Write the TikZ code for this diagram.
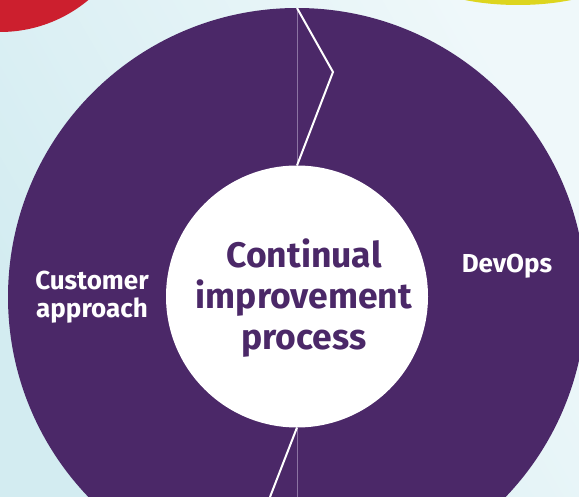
\documentclass[tikz,border=0pt]{standalone}
\usepackage{fontspec}
\setmainfont{Fira Sans}
\definecolor{bgA}{HTML}{D3ECF1}
\definecolor{bgB}{HTML}{EFF8FA}
\definecolor{cpurple}{HTML}{4B2868}
\definecolor{cred}{HTML}{CC1F2E}
\definecolor{cyellow}{HTML}{DDD51E}
\definecolor{cthin}{HTML}{8C74A3}
\tikzset{
  ring/.style={circle, fill=cpurple, inner sep=0pt, outer sep=0pt, minimum size=578pt},
  hub/.style={circle, fill=white, inner sep=0pt, outer sep=0pt, minimum size=262pt},
  hubtext/.style={text=cpurple, font=\fontsize{35.5}{41}\selectfont\bfseries, anchor=base, inner sep=0pt},
  sidetext/.style={text=white, font=\fontsize{26}{28}\selectfont\bfseries, anchor=base, inner sep=0pt},
  zig/.style={draw=white, line width=2pt, line join=miter},
  thin/.style={draw=cthin, line width=0.8pt}
}
\begin{document}
\begin{tikzpicture}[x=1pt,y=-1pt]
\useasboundingbox (0,0) rectangle (579,497);
\clip (0,0) rectangle (579,497);
\shade[left color=bgA, right color=bgB, shading angle=120] (0,0) rectangle (579,497);
\fill[cred] (0,-106) circle (138);
\fill[cyellow] (518,-35) ellipse [x radius=110, y radius=40];
\node[ring] (outer) at (297,297) {};
\node[hub] (inner) at (297,296.5) {};
\coordinate (kink) at (333,72);
\coordinate (bendA) at (297,497);
\coordinate (bendB) at (270,497);
\draw[thin] (outer.north) -- (inner.north);
\draw[thin] (inner.south) -- (bendA);
\draw[zig] (outer.north) -- (kink) -- (inner.north);
\draw[zig] (inner.south) -- (bendB);
\node[hubtext] (t1) at (304,268) {Continual};
\node[hubtext] (t2) at (304,309) {improvement};
\node[hubtext] (t3) at (304,350) {process};
\node[sidetext] (c1) at (92,290) {Customer};
\node[sidetext] (c2) at (92,318) {approach};
\node[sidetext] (d1) at (507,273) {DevOps};
\end{tikzpicture}
\end{document}
